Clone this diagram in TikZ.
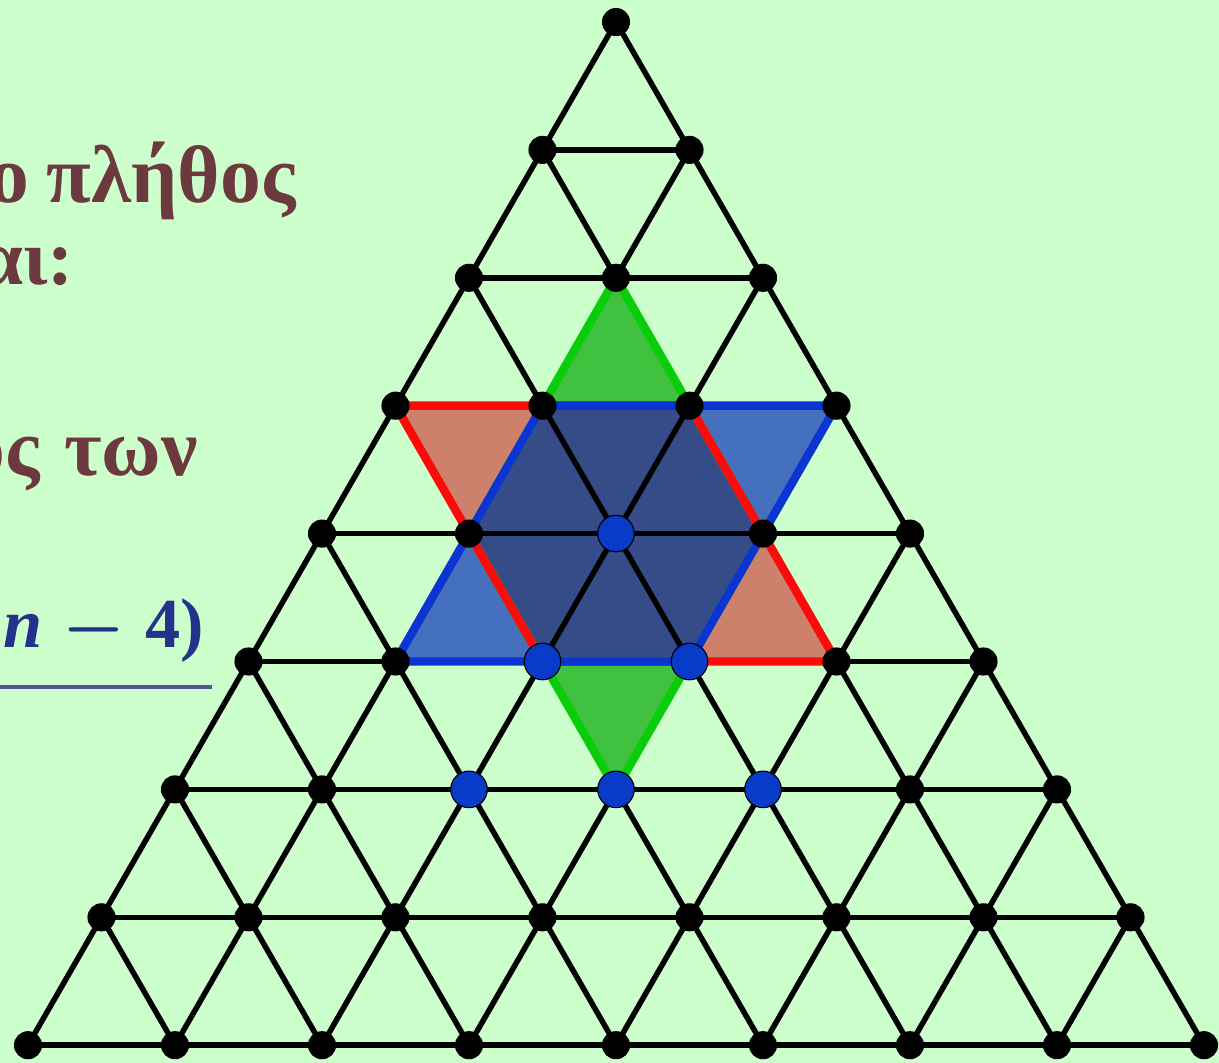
\RequirePackage{fix-cm}
\documentclass[tikz,border=0pt]{standalone}
\usepackage{fontspec}
\setmainfont{Liberation Serif}
\usetikzlibrary{calc}
\definecolor{bgcol}{RGB}{204,255,204}
\definecolor{gfill}{RGB}{64,194,64}
\definecolor{gline}{RGB}{10,205,10}
\definecolor{rfill}{RGB}{205,128,108}
\definecolor{rline}{RGB}{255,10,10}
\definecolor{bfill}{RGB}{68,112,190}
\definecolor{bline}{RGB}{12,52,210}
\definecolor{navy}{RGB}{54,76,136}
\definecolor{dotblue}{RGB}{8,60,200}
\definecolor{word}{RGB}{108,58,62}
\definecolor{mathcol}{RGB}{36,50,140}
\definecolor{ulcol}{RGB}{84,86,140}

\begin{document}
\begin{tikzpicture}[x=0.025cm,y=-0.025cm,
 grid/.style={line width=3.9pt,black},
 edge/.style={line width=6pt,line join=round},
 dot/.style={circle,fill=black,inner sep=0pt,minimum size=20pt},
 bdot/.style={circle,fill=dotblue,draw=black,line width=0.8pt,inner sep=0pt,minimum size=26pt},
 txt/.style={anchor=base east,inner sep=0pt,text=word,font=\bfseries}]
\fill[bgcol] (0,0) rectangle (1219,1063);
\useasboundingbox (0,0) rectangle (1219,1063);
\clip (0,0) rectangle (1219,1063);
% grid points, row i from the top, j from the left
\foreach \i in {0,...,8}
  \foreach \j in {0,...,\i}
    \coordinate (g\i-\j) at ({616+(\j-\i/2)*147},{22+\i*127.9});
% coloured triangles round the hexagon
\fill[gfill] (g2-1) -- (g3-1) -- (g3-2) -- cycle;
\fill[gfill] (g5-2) -- (g5-3) -- (g6-3) -- cycle;
\fill[rfill] (g3-0) -- (g3-1) -- (g4-1) -- cycle;
\fill[rfill] (g4-3) -- (g5-4) -- (g5-3) -- cycle;
\fill[bfill] (g3-2) -- (g3-3) -- (g4-3) -- cycle;
\fill[bfill] (g4-1) -- (g5-1) -- (g5-2) -- cycle;
\fill[navy] (g3-1) -- (g3-2) -- (g4-3) -- (g5-3) -- (g5-2) -- (g4-1) -- cycle;
% the lattice
\foreach \i in {1,...,8} \draw[grid] (g\i-0) -- (g\i-\i);
\foreach \j in {0,...,7} \draw[grid] (g\j-\j) -- (g8-\j);
\foreach \k [evaluate=\k as \m using int(8-\k)] in {0,...,7} \draw[grid] (g\k-0) -- (g8-\m);
% three rhombi
\draw[edge,gline] (g2-1) -- (g4-3) -- (g6-3) -- (g4-1) -- cycle;
\draw[edge,rline] (g3-0) -- (g3-2) -- (g5-4) -- (g5-2) -- cycle;
\draw[edge,bline] (g3-1) -- (g3-3) -- (g5-3) -- (g5-1) -- cycle;
\foreach \i in {0,...,8}
  \foreach \j in {0,...,\i}
    \node[dot] (d\i-\j) at (g\i-\j) {};
\foreach \p in {4-2,5-2,5-3,6-2,6-3,6-4}
  \node[bdot] (b\p) at (g\p) {};
% text cut by the left edge
\node[txt,font=\fontsize{58}{62}\selectfont\bfseries] (t1) at (296,203) {ο\hspace{0.22em}πλήθος};
\node[txt,font=\fontsize{56}{60}\selectfont\bfseries] (t2) at (74,285) {αι:};
\node[txt,font=\fontsize{58}{62}\selectfont\bfseries] (t3) at (198,476) {ος\hspace{0.3em}των};
\node[txt,text=mathcol,font=\fontsize{50}{54}\selectfont\bfseries] (t4) at (204,647) {\textit{n}\hspace{0.28em}{\boldmath$-$}\hspace{0.28em}4)};
\draw[ulcol,line width=3pt] (0,687) -- (212,687);
\end{tikzpicture}
\end{document}
